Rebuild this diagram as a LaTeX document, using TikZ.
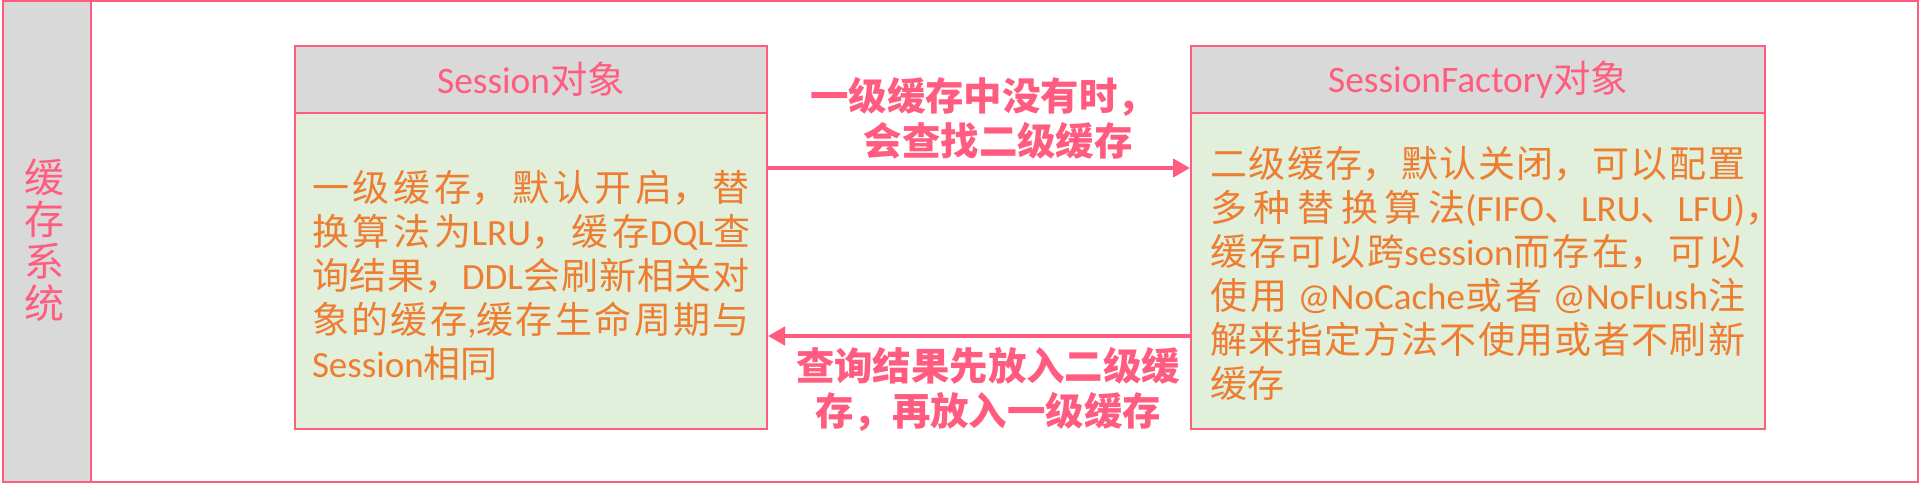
\documentclass[tikz,border=0pt]{standalone}
\usepackage{fontspec}
\setmainfont{Noto Sans CJK SC}
\newfontfamily\lat{Carlito}
\usepackage{xcolor}
\usetikzlibrary{arrows.meta}
\definecolor{rose}{HTML}{FF5C7F}
\definecolor{amber}{HTML}{ED7D31}
\definecolor{panel}{HTML}{D9D9D9}
\definecolor{leaf}{HTML}{E2EFDA}
\XeTeXlinebreaklocale "zh"
\XeTeXlinebreakskip=0pt plus 4pt
\setlength{\parindent}{0pt}

\begin{document}
\begin{tikzpicture}[x=0.5pt,y=-0.5pt,
  head/.style={draw=rose,line width=1pt,fill=panel,inner sep=0pt,minimum height=33.5pt,text=rose,font=\fontsize{18.7}{22}\selectfont},
  body/.style={draw=rose,line width=1pt,fill=leaf,inner sep=0pt,minimum height=158pt},
  note/.style={inner sep=0pt,text=amber,align=justify,font=\fontsize{18.5}{22}\selectfont},
  msg/.style={inner sep=0pt,text=rose,align=center,font=\fontsize{19.2}{22.5}\selectfont\bfseries},
  arr/.style={draw=rose,line width=2.2pt,-{Triangle[length=8.5pt,width=9pt]}}]
\useasboundingbox (0,0) rectangle (1920,483);
\draw[rose,line width=1pt] (3,1) rectangle (1918,482);
\draw[rose,line width=1pt,fill=panel] (3,1) rectangle (91,482);
\node[text=rose,align=center,inner sep=0pt,font=\fontsize{20}{21}\selectfont] (sys) at (45,240) {缓\\存\\系\\统};

\node[head,minimum width=236pt] (shead) at (531,79.5) {{\lat Session}对象};
\node[body,minimum width=236pt] (sbody) at (531,271) {};
\node[head,minimum width=287pt] (fhead) at (1478,79.5) {{\lat SessionFactory}对象};
\node[body,minimum width=287pt] (fbody) at (1478,271) {};

\node[note,text width=219pt] (stext) at (531,275) {一级缓存，默认开启，替\linebreak 换算法为{\lat LRU}，缓存{\lat DQL}查\linebreak 询结果，{\lat DDL}会刷新相关对\linebreak 象的缓存{\lat ,}缓存生命周期与\linebreak {\lat Session}相同};
\node[note,text width=267.5pt] (ftext) at (1477.5,273.5) {二级缓存，默认关闭，可以配置\linebreak 多种替换算法{\lat (FIFO}、{\lat LRU}、{\lat LFU)}\rlap{，}\linebreak 缓存可以跨{\lat session}而存在，可以\linebreak 使用{\lat\ @NoCache}或者{\lat\ @NoFlush}注\linebreak 解来指定方法不使用或者不刷新\linebreak 缓存};

\node[msg] (ask) at (983,118.5) {一级缓存中没有时，\\\hspace*{0.8em}会查找二级缓存};
\node[msg] (back) at (988,389.5) {查询结果先放入二级缓\\存，再放入一级缓存};

\draw[arr] ([yshift=51.5pt]sbody.east) -- ([yshift=51.5pt]fbody.west);
\draw[arr] ([yshift=-32.5pt]fbody.west) -- ([yshift=-32.5pt]sbody.east);
\end{tikzpicture}
\end{document}
